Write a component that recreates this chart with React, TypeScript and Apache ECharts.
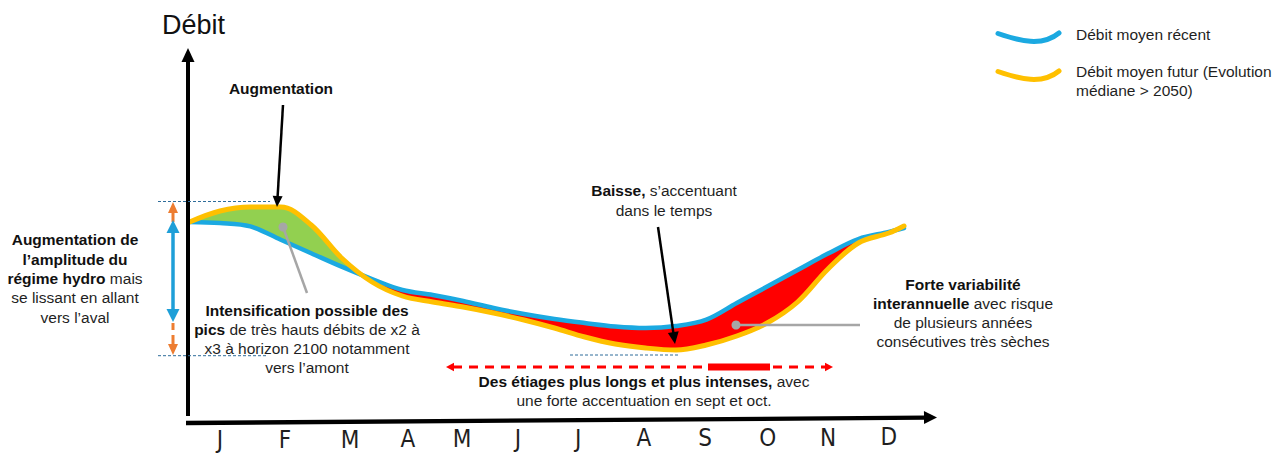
import React, { useEffect, useRef } from "react";
import * as echarts from "echarts";

// Position along the year, in months (J = 0 ... D = 11)
const X_MONTH = [-0.5, 0, 0.5, 1, 1.5, 2, 2.5, 3, 3.5, 4, 4.5, 5, 5.5, 6, 6.5, 7, 7.5, 8, 8.5, 9, 9.5, 10, 10.5, 11, 11.25];
// Débit moyen récent (blue)
const DEBIT_RECENT = [89, 88.5, 86.8, 80.1, 73.4, 66.7, 60.5, 55, 52.5, 49.5, 46, 43, 40.5, 38.5, 36.75, 36, 37, 40.2, 48.5, 56.7, 65, 73.2, 80.5, 84, 86];
// Débit moyen futur (orange)
const DEBIT_FUTUR = [89, 94.5, 96.5, 96.5, 87.5, 71, 59, 52, 49, 46.5, 43.5, 40, 36, 31.5, 28, 26, 25, 27.5, 32, 38.5, 49, 65.5, 78.5, 83.5, 87];
// Month tick labels and their positions
const MONTHS = ["J", "F", "M", "A", "M", "J", "J", "A", "S", "O", "N", "D"];
const MONTH_POS = [0, 1.07, 2.14, 3.09, 3.98, 4.9, 5.89, 6.97, 7.98, 9.01, 10, 11];

const SERIES_RECENT = "Débit moyen récent";
const SERIES_FUTUR = "Débit moyen futur (Evolution médiane > 2050)";

const FONT = "'Liberation Sans', Arial, sans-serif";
const NARROW = "'Liberation Sans Narrow', 'DejaVu Sans Condensed', sans-serif";
const TXT = "#1f1f1f";
const BLUE = "#1BA9E1";
const ORANGE = "#FFC000";

function arrow(x1: number, y1: number, x2: number, y2: number, color: string, width: number, hl: number, hw: number) {
  const dx = x2 - x1, dy = y2 - y1;
  const L = Math.hypot(dx, dy);
  const ux = dx / L, uy = dy / L, nx = -uy, ny = ux;
  const bx = x2 - ux * hl, by = y2 - uy * hl;
  return [
    { type: "line", z: 10, shape: { x1, y1, x2: bx + ux, y2: by + uy }, style: { stroke: color, lineWidth: width } },
    {
      type: "polygon", z: 10,
      shape: { points: [[x2, y2], [bx + nx * hw, by + ny * hw], [bx - nx * hw, by - ny * hw]] },
      style: { fill: color },
    },
  ];
}

function head(tx: number, ty: number, bx: number, by: number, hw: number, color: string) {
  const dx = tx - bx, dy = ty - by;
  const L = Math.hypot(dx, dy);
  const nx = -dy / L, ny = dx / L;
  return {
    type: "polygon", z: 10,
    shape: { points: [[tx, ty], [bx + nx * hw, by + ny * hw], [bx - nx * hw, by - ny * hw]] },
    style: { fill: color },
  };
}

function seg(x1: number, y1: number, x2: number, y2: number, color: string, width: number, dash?: number[]) {
  return {
    type: "line", z: 10,
    shape: { x1, y1, x2, y2 },
    style: { stroke: color, lineWidth: width, lineDash: dash || null },
  };
}

function text(x: number, y: number, t: string, size: number, align: string, lh: number, extra: any = {}) {
  return {
    type: "text", z: 10, x, y,
    style: {
      text: t, fontSize: size, fontFamily: FONT, fill: TXT, align, verticalAlign: "middle", lineHeight: lh,
      rich: { b: { fontWeight: "bold", fontSize: size, fontFamily: FONT, fill: "#111", lineHeight: lh } },
      ...extra,
    },
  };
}

export default function App() {
  const ref = useRef<HTMLDivElement>(null);

  useEffect(() => {
    if (!ref.current) return;
    const chart = echarts.init(ref.current, null, { renderer: "svg" });

    const recent = X_MONTH.map((x, i) => [x, DEBIT_RECENT[i]]);
    const futur = X_MONTH.map((x, i) => [x, DEBIT_FUTUR[i]]);
    // fill series: [value, x] so that the value dimension is the stacked one
    const base = X_MONTH.map((x, i) => [Math.min(DEBIT_RECENT[i], DEBIT_FUTUR[i]), x]);
    const gain = X_MONTH.map((x, i) => [Math.max(DEBIT_FUTUR[i] - DEBIT_RECENT[i], 0), x]);
    const loss = X_MONTH.map((x, i) => [Math.max(DEBIT_RECENT[i] - DEBIT_FUTUR[i], 0), x]);

    const rich: any = {};
    MONTHS.forEach((_, i) => {
      rich["m" + i] = {
        fontSize: 24, fontFamily: NARROW, color: TXT, lineHeight: 18,
        padding: [Math.round(6 * (1 - MONTH_POS[i] / 11)), 0, 0, 0],
      };
    });

    const SM = 0.35;
    const fillCommon = {
      type: "line", stack: "fill", smooth: SM, symbol: "none", silent: true,
      encode: { x: 1, y: 0 },
      lineStyle: { width: 0, opacity: 0 }, emphasis: { disabled: true },
    };

    const graphics: any[] = [
      // Title
      { type: "text", z: 10, x: 162, y: 25, style: { text: "Débit", fontSize: 27, fontFamily: FONT, fill: "#111", align: "left", verticalAlign: "middle" } },
      // Axes
      seg(188, 416, 188, 60, "#000", 4),
      head(188, 48, 188, 62, 6.5, "#000"),
      seg(186, 423, 925, 417.6, "#000", 4.3),
      head(937, 417.5, 924, 417.6, 6.5, "#000"),
      // Dashed reference lines
      seg(158, 201.5, 270, 201.5, "#2F6D9A", 1, [3, 2]),
      seg(158, 355.7, 268, 355.7, "#2F6D9A", 1, [3, 2]),
      seg(570, 355, 680, 355, "#2F6D9A", 1, [3, 2]),
      // Orange amplitude arrow
      seg(173, 211, 173, 222, "#ED7D31", 3),
      head(173, 202, 173, 213, 5, "#ED7D31"),
      seg(173, 323, 173, 330, "#ED7D31", 3),
      seg(173, 335, 173, 346, "#ED7D31", 3),
      head(173, 355, 173, 344, 5, "#ED7D31"),
      // Blue amplitude arrow
      seg(173, 231, 173, 311, "#1E9FD8", 3.5),
      head(173, 220, 173, 233, 6.5, "#1E9FD8"),
      head(173, 322, 173, 309, 6.5, "#1E9FD8"),
      // Augmentation arrow
      ...arrow(283, 105, 277, 207, "#000", 2.5, 11, 5),
      // Baisse arrow
      ...arrow(658, 227, 675, 344, "#000", 2.5, 12, 5.5),
      // Gray pointers
      seg(283, 227, 307, 293, "#A6A6A6", 2.5),
      { type: "circle", z: 11, shape: { cx: 283, cy: 227, r: 4.5 }, style: { fill: "#A6A6A6" } },
      seg(736, 325, 860, 325, "#A6A6A6", 2.5),
      { type: "circle", z: 11, shape: { cx: 736, cy: 325, r: 4.5 }, style: { fill: "#A6A6A6" } },
      // Red dashed double arrow
      seg(453, 367, 826, 367, "#FF0000", 3, [9, 7]),
      head(446, 367, 454, 367, 4.2, "#FF0000"),
      head(833, 367, 825, 367, 4.2, "#FF0000"),
      { type: "rect", z: 10, shape: { x: 708, y: 363.5, width: 62, height: 7 }, style: { fill: "#FF0000" } },
      // Annotations
      text(281, 88, "{b|Augmentation}", 15.5, "center", 19.5),
      text(75, 278.5, "{b|Augmentation de}\n{b|l’amplitude du}\n{b|régime hydro} mais\nse lissant en allant\nvers l’aval", 15.5, "center", 19.3),
      text(307, 338.5, "{b|Intensification possible des}\n{b|pics} de très hauts débits de x2 à\nx3 à horizon 2100 notamment\nvers l’amont", 15.5, "center", 19),
      text(664, 200, "{b|Baisse,} s’accentuant\ndans le temps", 15.5, "center", 20),
      text(644, 390.5, "{b|Des étiages plus longs et plus intenses,} avec\nune forte accentuation en sept et oct.", 15.5, "center", 19),
      text(963, 312.5, "{b|Forte variabilité}\n{b|interannuelle} avec risque\nde plusieurs années\nconsécutives très sèches", 15.5, "center", 19),
      // Legend
      {
        type: "bezierCurve", z: 10,
        shape: { x1: 998, y1: 33.5, cpx1: 1020, cpy1: 41, cpx2: 1042, cpy2: 47, x2: 1059, y2: 33 },
        style: { stroke: BLUE, lineWidth: 5, lineCap: "round", fill: null },
      },
      {
        type: "bezierCurve", z: 10,
        shape: { x1: 998, y1: 71.5, cpx1: 1020, cpy1: 79, cpx2: 1042, cpy2: 85, x2: 1059, y2: 71 },
        style: { stroke: ORANGE, lineWidth: 5, lineCap: "round", fill: null },
      },
      text(1076, 34.5, "Débit moyen récent", 15.5, "left", 19),
      text(1076, 81, "Débit moyen futur (Evolution\nmédiane > 2050)", 15.5, "left", 19),
    ];

    chart.setOption({
      animation: false,
      grid: { left: 189.6, right: 379, top: 150, bottom: 53, containLabel: false },
      xAxis: {
        type: "value", min: -0.5, max: 11.25,
        axisLine: { show: false }, axisTick: { show: false }, splitLine: { show: false },
        axisLabel: {
          customValues: MONTH_POS,
          margin: 28,
          formatter: (v: number) => {
            const i = MONTH_POS.indexOf(v);
            return i < 0 ? "" : `{m${i}|${MONTHS[i]}}`;
          },
          rich,
        },
      },
      yAxis: {
        type: "value", min: 0, max: 125,
        axisLine: { show: false }, axisTick: { show: false }, splitLine: { show: false }, axisLabel: { show: false },
      },
      series: [
        { ...fillCommon, name: "base", data: base },
        { ...fillCommon, name: "hausse", data: gain, areaStyle: { color: "#92D050", opacity: 1 } },
        { ...fillCommon, name: "baisse", data: loss, areaStyle: { color: "#FF0000", opacity: 1 } },
        {
          type: "line", name: SERIES_RECENT, data: recent, smooth: SM, symbol: "none", silent: true, z: 3,
          lineStyle: { color: BLUE, width: 4.5, cap: "round", join: "round" },
        },
        {
          type: "line", name: SERIES_FUTUR, data: futur, smooth: SM, symbol: "none", silent: true, z: 4,
          lineStyle: { color: ORANGE, width: 5, cap: "round", join: "round" },
        },
      ],
      graphic: graphics,
    });

    return () => chart.dispose();
  }, []);

  return (
    <div
      ref={ref}
      style={{ position: "absolute", left: 0, top: 0, width: 1283, height: 453, background: "#fff" }}
    />
  );
}
